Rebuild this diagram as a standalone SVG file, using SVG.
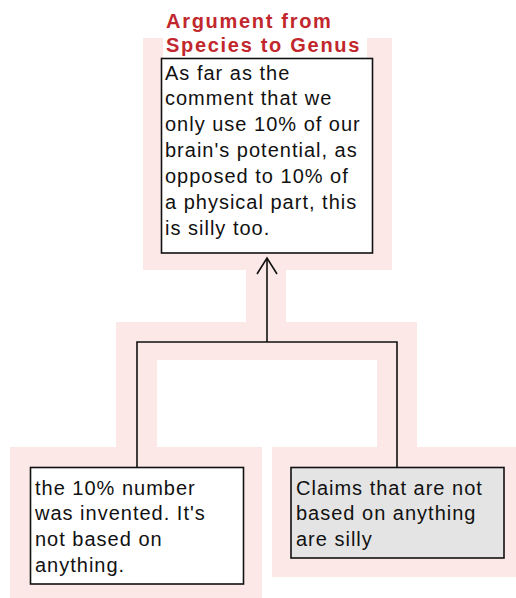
<svg xmlns="http://www.w3.org/2000/svg" width="516" height="598" viewBox="0 0 516 598">
  <style>
    .halo { fill: #fde8e8; }
    .box { stroke: #111; stroke-width: 1.6; }
    .plain { fill: #ffffff; }
    .given { fill: #e4e4e4; }
    .body { font-family: "Liberation Sans", Arial, sans-serif; font-size: 20px; letter-spacing: 1px; fill: #111; }
    .scheme { font-family: "Liberation Sans", Arial, sans-serif; font-size: 20px; font-weight: bold; letter-spacing: 1.7px; fill: #c1272d; }
    .link { fill: none; stroke: #111; stroke-width: 1.6; }
  </style>
  <defs>
    <marker id="open-arrow" viewBox="-18 -12 20 24" markerWidth="20" markerHeight="24" refX="0" refY="0" orient="auto" markerUnits="userSpaceOnUse">
      <path d="M-16,-10 L0,0 L-16,10" fill="none" stroke="#111" stroke-width="1.6"/>
    </marker>
  </defs>

  <rect width="516" height="598" fill="#ffffff"/>

  <!-- highlight bands behind nodes and links -->
  <g id="highlight">
    <rect class="halo" x="143" y="38" width="249" height="232"/>
    <rect fill="#ffffff" x="163" y="38" width="204" height="20"/>
    <rect class="halo" x="246" y="270" width="40" height="52"/>
    <rect class="halo" x="116" y="322" width="301" height="38"/>
    <rect class="halo" x="116" y="360" width="41" height="87"/>
    <rect class="halo" x="377" y="360" width="40" height="87"/>
    <rect class="halo" x="10" y="447" width="252" height="160"/>
    <rect class="halo" x="272" y="447" width="260" height="130"/>
  </g>

  <g id="connectors">
    <path class="link" d="M267,342 L267,258" marker-end="url(#open-arrow)"/>
    <path class="link" d="M137,467 L137,342 L397,342 L397,467"/>
  </g>

  <g id="conclusion">
    <text class="scheme" x="166" y="27.5">Argument from</text>
    <text class="scheme" x="166" y="51.5">Species to Genus</text>
    <rect class="box plain" x="161.5" y="58.5" width="211" height="194.5"/>
    <text class="body" x="165">
      <tspan x="165" y="79.5">As far as the</tspan>
      <tspan x="165" y="105.4">comment that we</tspan>
      <tspan x="165" y="131.3">only use 10% of our</tspan>
      <tspan x="165" y="157.2">brain's potential, as</tspan>
      <tspan x="165" y="183.1">opposed to 10% of</tspan>
      <tspan x="165" y="209">a physical part, this</tspan>
      <tspan x="165" y="234.9">is silly too.</tspan>
    </text>
  </g>

  <g id="premise-invented">
    <rect class="box plain" x="30.5" y="467.5" width="213" height="116.5"/>
    <text class="body" x="35">
      <tspan x="35" y="494.5">the 10% number</tspan>
      <tspan x="35" y="520.3">was invented. It's</tspan>
      <tspan x="35" y="546.1">not based on</tspan>
      <tspan x="35" y="571.9">anything.</tspan>
    </text>
  </g>

  <g id="premise-claims">
    <rect class="box given" x="291" y="467.5" width="213" height="90.5"/>
    <text class="body" x="296">
      <tspan x="296" y="494.5">Claims that are not</tspan>
      <tspan x="296" y="520.3">based on anything</tspan>
      <tspan x="296" y="546.1">are silly</tspan>
    </text>
  </g>
</svg>
